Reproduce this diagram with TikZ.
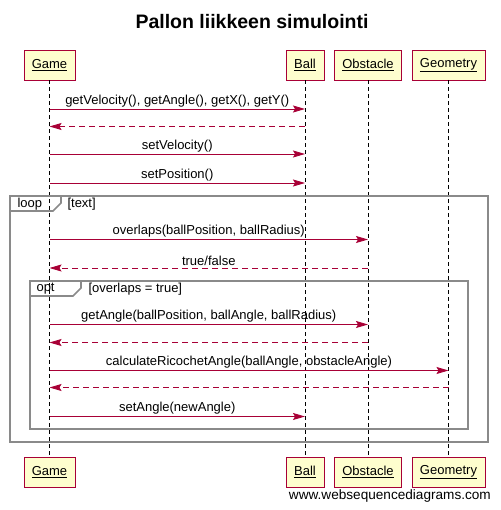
\documentclass[tikz,border=0pt]{standalone}
\usepackage{fontspec}
\setmainfont{Liberation Sans}
\usetikzlibrary{arrows.meta}
\definecolor{umlred}{HTML}{A80036}
\definecolor{umlfill}{HTML}{FEFECE}
\definecolor{framegray}{HTML}{8A8A8A}
\begin{document}
\begin{tikzpicture}[x=1pt, y=-1pt, font=\fontsize{13}{15}\selectfont,
    actor node/.style={draw=umlred, fill=umlfill, minimum height=30pt, inner xsep=8pt},
    lifeline/.style={black, line width=0.8pt, dash pattern=on 4pt off 3pt},
    msg/.style={umlred, line width=0.9pt, -{Stealth[length=12pt, width=7pt, inset=2pt]}},
    reply/.style={msg, dash pattern=on 6pt off 4pt},
    lbl/.style={above, text=black, inner sep=1.5pt},
    frame/.style={draw=framegray, line width=1.6pt}]

                \useasboundingbox (0,0) rectangle (500,510);
                \node[font=\bfseries\fontsize{19.5}{22}\selectfont] (title) at (252,22) {Pallon liikkeen simulointi};

                % participants, top and bottom
                \node[actor node] at (49.5,65) (game) {\underline{Game}};
                \node[actor node] at (305,65) (ball) {\underline{Ball}};
                \node[actor node] at (368,65) (obstacle) {\underline{Obstacle}};
                \node[actor node] at (448.5,65) (geometry) {\underline{Geometry}};
                \node[actor node] at (49.5,472) (gameB) {\underline{Game}};
                \node[actor node] at (305,472) (ballB) {\underline{Ball}};
                \node[actor node] at (368,472) (obstacleB) {\underline{Obstacle}};
                \node[actor node] at (448.5,472) (geometryB) {\underline{Geometry}};

                \draw[lifeline] (game) -- (gameB);
                \draw[lifeline] (ball) -- (ballB);
                \draw[lifeline] (obstacle) -- (obstacleB);
                \draw[lifeline] (geometry) -- (geometryB);

                % frames
                \draw[frame] (10,196) rectangle (488,442);
                \draw[frame] (10,211) -- (53,211) -- (61,203) -- (61,196);
                \node[anchor=west] at (14,204) (loop) {loop};
                \node[anchor=west] at (64,204) (loopguard) {[text]};
                \draw[frame] (30,281) rectangle (468,429);
                \draw[frame] (30,296) -- (73,296) -- (81,288) -- (81,281);
                \node[anchor=west] at (33,289) (opt) {opt};
                \node[anchor=west] at (85,289) (optguard) {[overlaps = true]};

                % message rows
                \coordinate (r1) at (0,109);
                \coordinate (r2) at (0,126.5);
                \coordinate (r3) at (0,154);
                \coordinate (r4) at (0,183);
                \coordinate (r5) at (0,239.5);
                \coordinate (r6) at (0,268);
                \coordinate (r7) at (0,324.5);
                \coordinate (r8) at (0,342.5);
                \coordinate (r9) at (0,370.5);
                \coordinate (r10) at (0,387.5);
                \coordinate (r11) at (0,416.5);

                \path (game |- r1) edge[msg] node[lbl] {getVelocity(), getAngle(), getX(), getY()} (ball |- r1);
                \path (ball |- r2) edge[reply] (game |- r2);
                \path (game |- r3) edge[msg] node[lbl] {setVelocity()} (ball |- r3);
                \path (game |- r4) edge[msg] node[lbl] {setPosition()} (ball |- r4);
                \path (game |- r5) edge[msg] node[lbl] {overlaps(ballPosition, ballRadius)} (obstacle |- r5);
                \path (obstacle |- r6) edge[reply] node[lbl] {true/false} (game |- r6);
                \path (game |- r7) edge[msg] node[lbl] {getAngle(ballPosition, ballAngle, ballRadius)} (obstacle |- r7);
                \path (obstacle |- r8) edge[reply] (game |- r8);
                \path (game |- r9) edge[msg] node[lbl] {calculateRicochetAngle(ballAngle, obstacleAngle)} (geometry |- r9);
                \path (geometry |- r10) edge[reply] (game |- r10);
                \path (game |- r11) edge[msg] node[lbl] {setAngle(newAngle)} (ball |- r11);

                \node[anchor=east, font=\fontsize{13.6}{16}\selectfont, inner sep=1pt] at (492,496) (credit) {www.websequencediagrams.com};
            \end{tikzpicture}
\end{document}
